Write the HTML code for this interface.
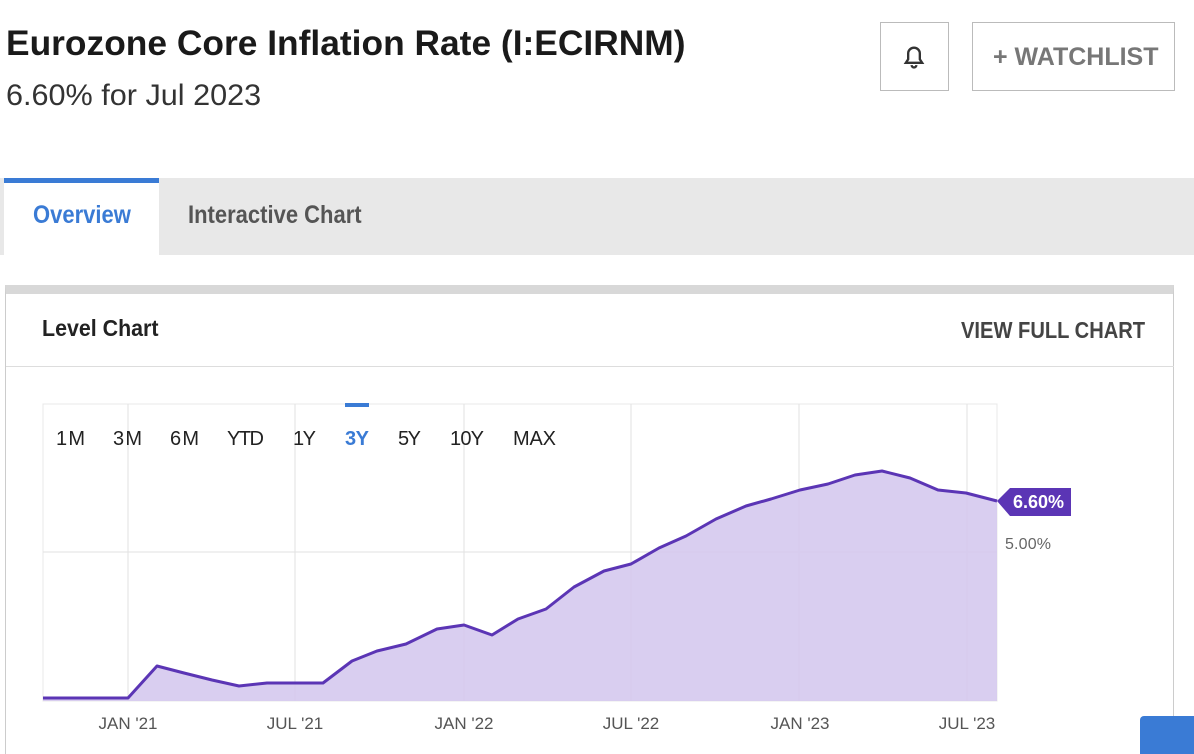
<!DOCTYPE html>
<html><head><style>
html,body{margin:0;width:1194px;height:754px;overflow:hidden}
body{background:#fff;font-family:"Liberation Sans",sans-serif;position:relative;color:#222}
.a{position:absolute;white-space:nowrap}
.cond{display:inline-block;transform-origin:left center}
</style></head><body>
<div class="a" style="left:6px;top:24px;font-size:35px;font-weight:bold;color:#1a1a1a"><span class="cond" style="transform:scaleX(1.01)">Eurozone Core Inflation Rate (I:ECIRNM)</span></div>
<div class="a" style="left:6px;top:79px;font-size:30px;color:#333"><span class="cond" style="transform:scaleX(1.02)">6.60% for Jul 2023</span></div>
<div class="a" style="left:880px;top:22px;width:67px;height:67px;border:1px solid #bbb"></div>
<svg class="a" style="left:900px;top:43px" width="28" height="28" viewBox="0 0 24 24"><path d="M5 17h14l-2-3v-5a5 5 0 0 0-10 0v5z" fill="none" stroke="#333" stroke-width="2"/><path d="M10 19a2 2 0 0 0 4 0" fill="none" stroke="#333" stroke-width="2"/></svg>
<div class="a" style="left:972px;top:22px;width:201px;height:67px;border:1px solid #bbb"></div>
<div class="a" style="left:993px;top:43px;font-size:25px;font-weight:bold;color:#777"><span class="cond">+ WATCHLIST</span></div>
<div class="a" style="left:0;top:178px;width:1194px;height:77px;background:#e8e8e8"></div>
<div class="a" style="left:4px;top:178px;width:155px;height:77px;background:#fff;border-top:5px solid #3a7bd5;box-sizing:border-box"></div>
<div class="a" style="left:33px;top:201px;font-size:25px;font-weight:bold;color:#3a7bd5"><span class="cond" style="transform:scaleX(0.88)">Overview</span></div>
<div class="a" style="left:188px;top:201px;font-size:25px;font-weight:bold;color:#555"><span class="cond" style="transform:scaleX(0.88)">Interactive Chart</span></div>
<div class="a" style="left:5px;top:285px;width:1169px;height:480px;border:1px solid #ccc;border-top:9px solid #d8d8d8;box-sizing:border-box"></div>
<div class="a" style="left:6px;top:366px;width:1168px;height:1px;background:#ddd"></div>
<div class="a" style="left:42px;top:315px;font-size:23px;font-weight:bold;color:#222"><span class="cond" style="transform:scaleX(0.93)">Level Chart</span></div>
<div class="a" style="left:961px;top:317px;font-size:23px;font-weight:bold;color:#444"><span class="cond" style="transform:scaleX(0.875)">VIEW FULL CHART</span></div>
<svg class="a" style="left:0;top:0" width="1194" height="754">
<rect x="43" y="404" width="954" height="297" fill="none" stroke="#e8e8e8"/>
<g stroke="#e2e2e2" stroke-width="1">
<line x1="128" y1="404" x2="128" y2="701"/><line x1="295" y1="404" x2="295" y2="701"/><line x1="464" y1="404" x2="464" y2="701"/><line x1="631" y1="404" x2="631" y2="701"/><line x1="799" y1="404" x2="799" y2="701"/><line x1="967" y1="404" x2="967" y2="701"/><line x1="43" y1="552" x2="997" y2="552"/></g>
<polygon fill="#d5c9ee" fill-opacity="0.9" points="43,698 128,698 157,666 184,673 212,680 239,686 267,683 294,683 323,683 352,661 377,651 406,644 437,629 464,625 492,635 518,619 546,609 574,587 604,571 631,564 659,548 686,536 716,519 746,506 771,499 800,490 828,484 855,475 882,471 910,478 938,490 966,493 997,501 997,701 43,701"/>
<polyline fill="none" stroke="#5b35b5" stroke-width="3" stroke-linejoin="round" points="43,698 128,698 157,666 184,673 212,680 239,686 267,683 294,683 323,683 352,661 377,651 406,644 437,629 464,625 492,635 518,619 546,609 574,587 604,571 631,564 659,548 686,536 716,519 746,506 771,499 800,490 828,484 855,475 882,471 910,478 938,490 966,493 997,501"/>
<polygon fill="#5b35b5" points="997,501 1010,488 1071,488 1071,516 1010,516"/>
<text x="1013" y="508" fill="#fff" font-size="18" font-weight="bold" font-family="Liberation Sans" textLength="51">6.60%</text>
<text x="1005" y="549" fill="#666" font-size="16" font-family="Liberation Sans" textLength="46">5.00%</text>
<rect x="345" y="403" width="24" height="4" fill="#3a7bd5"/>
<g font-size="20" font-family="Liberation Sans" fill="#222">
<text x="56" y="445" textLength="29">1M</text><text x="113" y="445" textLength="29">3M</text><text x="170" y="445" textLength="29">6M</text><text x="227" y="445" textLength="37">YTD</text><text x="293" y="445" textLength="23">1Y</text><text x="345" y="445" textLength="24" fill="#3a7bd5" font-weight="bold">3Y</text><text x="398" y="445" textLength="23">5Y</text><text x="450" y="445" textLength="34">10Y</text><text x="513" y="445" textLength="43">MAX</text></g>
<g font-size="17" font-family="Liberation Sans" fill="#555" text-anchor="middle">
<text x="128" y="729">JAN '21</text><text x="295" y="729">JUL '21</text><text x="464" y="729">JAN '22</text><text x="631" y="729">JUL '22</text><text x="800" y="729">JAN '23</text><text x="967" y="729">JUL '23</text></g>
<rect x="1140" y="716" width="60" height="50" rx="4" fill="#3a7bd5"/>
</svg>
</body></html>
